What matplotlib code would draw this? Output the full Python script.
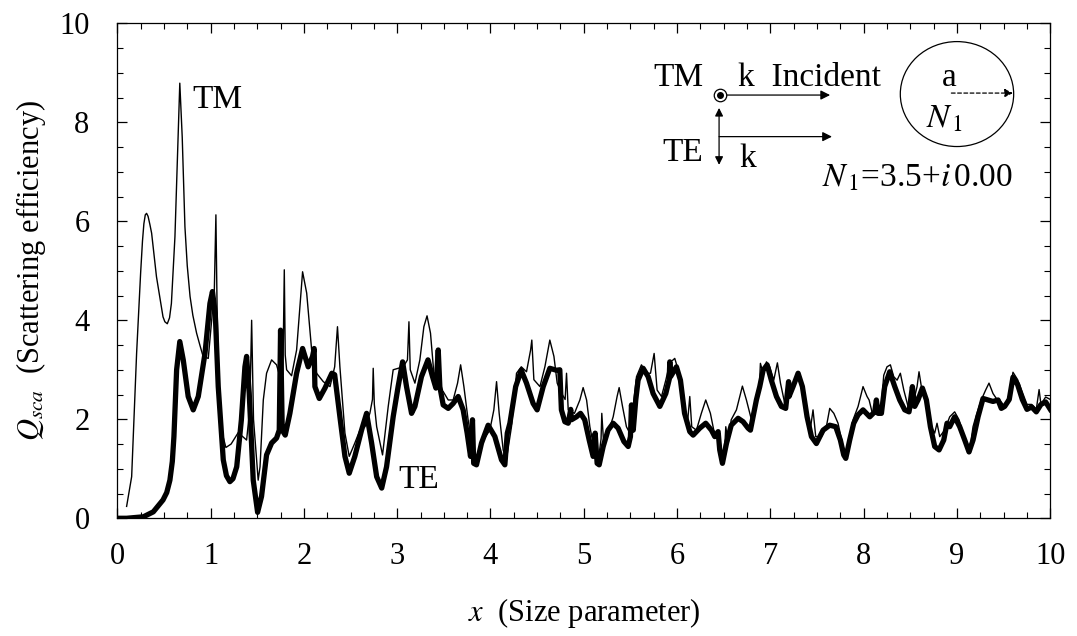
import matplotlib
matplotlib.use("Agg")
import matplotlib.pyplot as plt
from matplotlib.patches import Ellipse

plt.rcParams['font.family'] = ['Liberation Serif', 'DejaVu Serif']
plt.rcParams['mathtext.fontset'] = 'stix'

# ----------------------
# data (x = size parameter, Q_sca)
# ----------------------
x_tm = [0.10, 0.154, 0.207, 0.25, 0.27, 0.285, 0.30, 0.314, 0.33, 0.35, 0.368, 0.42, 0.49, 0.51,
        0.536, 0.56, 0.58, 0.618, 0.646, 0.67, 0.696, 0.725, 0.75, 0.78, 0.81, 0.85, 0.885, 0.92,
        0.975, 1.04, 1.057, 1.07, 1.09, 1.12, 1.164, 1.22, 1.296, 1.386, 1.42,
        1.44, 1.46, 1.51, 1.53, 1.565, 1.6, 1.654, 1.707, 1.743, 1.775, 1.79, 1.80, 1.815, 1.868,
        1.922, 1.986, 2.03, 2.083, 2.136, 2.208, 2.28, 2.33, 2.36, 2.386, 2.44, 2.486, 2.546, 2.6,
        2.654, 2.707, 2.735, 2.743, 2.755, 2.78, 2.843, 2.904, 2.957, 3.01, 3.065, 3.11, 3.126, 3.14,
        3.19, 3.243, 3.286, 3.32, 3.357, 3.393, 3.44, 3.493, 3.547, 3.6, 3.647, 3.68, 3.715, 3.76,
        3.815, 3.85, 3.904, 3.993, 4.036, 4.065, 4.093, 4.136, 4.17, 4.225, 4.279, 4.33, 4.386, 4.43,
        4.443, 4.465, 4.53, 4.583, 4.636, 4.68, 4.715, 4.76, 4.80, 4.815, 4.833, 4.9, 4.958, 4.993,
        5.03, 5.065, 5.1, 5.136, 5.165, 5.185, 5.193, 5.215, 5.26, 5.315, 5.357, 5.379, 5.415, 5.457,
        5.493, 5.53, 5.565, 5.618, 5.672, 5.715, 5.754, 5.786, 5.833, 5.879, 5.922, 5.975, 6.022,
        6.065, 6.108, 6.136, 6.157, 6.207, 6.26, 6.307, 6.357, 6.393, 6.44, 6.457, 6.486, 6.515,
        6.522, 6.547, 6.58, 6.636, 6.672, 6.7, 6.743, 6.797, 6.833, 6.879, 6.893, 6.922, 6.958, 6.993,
        7.036, 7.075, 7.108, 7.154, 7.208, 7.236, 7.297, 7.333, 7.386, 7.422, 7.457, 7.486, 7.547,
        7.6, 7.636, 7.68, 7.725, 7.772, 7.808, 7.843, 7.886, 7.94, 7.993, 8.036, 8.058, 8.093, 8.129,
        8.154, 8.19, 8.215, 8.25, 8.286, 8.322, 8.358, 8.393, 8.43, 8.475, 8.51, 8.547, 8.572, 8.593,
        8.618, 8.654, 8.69, 8.726, 8.761, 8.786, 8.815, 8.868, 8.922, 8.975, 9.022, 9.065, 9.108,
        9.136, 9.172, 9.208, 9.26, 9.307, 9.343, 9.386, 9.422, 9.458, 9.511, 9.56, 9.6, 9.65, 9.7,
        9.75, 9.8, 9.85, 9.88, 9.9, 9.95, 10.0]
q_tm = [0.24, 0.84, 3.33, 4.95, 5.6, 5.95, 6.13, 6.16, 6.1, 5.93, 5.76, 4.88, 4.07, 3.97,
        3.93, 4.05, 4.34, 5.69, 7.37, 8.79, 7.7, 5.89, 5.1, 4.48, 4.1, 3.74, 3.5, 3.27,
        3.23, 4.6, 6.13, 4.2, 2.6, 1.75, 1.43, 1.5, 1.73, 1.58, 2.2,
        4.0, 2.0, 0.77, 1.04, 2.39, 2.93, 3.2, 3.1, 2.86, 2.9, 5.02, 3.3, 3.0, 2.88,
        3.4, 4.98, 4.55, 3.4, 2.93, 2.76, 2.66, 3.06, 3.87, 3.06, 1.72, 1.25, 1.52, 1.78,
        1.85, 2.12, 2.4, 3.03, 2.3, 1.85, 1.28, 2.26, 3.0, 3.03, 3.06, 3.2, 3.97, 3.0,
        2.73, 3.2, 3.87, 4.09, 3.74, 2.93, 2.63, 2.56, 2.39, 2.39, 2.73, 3.1, 2.66, 1.99,
        1.38, 1.25, 1.52, 1.78, 2.19, 2.76, 2.12, 1.38, 1.18, 1.85, 2.93, 3.06, 2.96, 3.4,
        3.6, 2.8, 2.66, 3.06, 3.6, 3.27, 2.73, 2.53, 2.4, 2.93, 2.19, 2.12, 2.39, 2.64,
        2.39, 1.85, 1.51, 1.25, 1.31, 1.6, 2.12, 1.45, 1.72, 2.05, 2.46, 2.64, 2.26, 1.85,
        1.72, 2.26, 2.86, 3.1, 2.93, 2.93, 3.33, 2.59, 2.46, 2.79, 3.14, 3.23, 2.93,
        2.19, 1.85, 2.46, 1.85, 1.78, 2.12, 2.39, 2.12, 1.78, 1.58, 1.25, 1.11, 1.6,
        1.85, 1.51, 1.99, 2.19, 2.46, 2.67, 2.39, 1.99, 2.26, 2.52, 3.13, 2.93, 3.16, 3.06,
        2.79, 3.14, 2.73, 2.32, 2.46, 2.63, 2.89, 2.73, 2.19, 1.72, 2.19, 1.65, 1.65,
        1.85, 2.22, 2.12, 1.92, 1.51, 1.25, 1.58, 1.99, 2.26, 2.66, 2.46, 2.39, 2.12, 2.26,
        2.19, 2.32, 2.89, 3.06, 3.1, 2.86, 2.79, 2.93, 2.59, 2.26, 2.19, 2.46, 2.66, 2.96,
        2.66, 2.56, 2.32, 1.85, 1.72, 1.92, 1.65, 1.78, 2.05, 2.15, 1.99, 1.72, 1.51,
        1.38, 1.85, 2.09, 2.39, 2.59, 2.73, 2.52, 2.42, 2.39, 2.26, 2.5, 2.95, 2.8, 2.55,
        2.3, 2.3, 2.2, 2.6, 2.3, 2.45, 2.4]

x_te = [0.0, 0.1, 0.28, 0.386, 0.49, 0.53, 0.564, 0.59, 0.607, 0.636, 0.67, 0.707, 0.76, 0.814,
        0.868, 0.94, 0.993, 1.02, 1.05, 1.082, 1.136, 1.17, 1.207, 1.24, 1.28, 1.33, 1.368, 1.386,
        1.414, 1.457, 1.504,
        1.546, 1.6, 1.654, 1.707, 1.736, 1.75, 1.768, 1.8, 1.85, 1.922, 1.986, 2.046, 2.093, 2.11,
        2.118, 2.165, 2.226, 2.3, 2.33, 2.386, 2.44, 2.486, 2.546, 2.618, 2.672, 2.726, 2.78, 2.834,
        2.886, 2.957, 3.01, 3.058, 3.1, 3.154, 3.19, 3.26, 3.33, 3.379, 3.415, 3.44, 3.457, 3.493,
        3.547, 3.6, 3.654, 3.707, 3.75, 3.786, 3.807, 3.82, 3.85, 3.904, 3.975, 4.047, 4.118, 4.154,
        4.18, 4.208, 4.27, 4.33, 4.386, 4.457, 4.5, 4.565, 4.636, 4.707, 4.743, 4.76, 4.797, 4.833,
        4.86, 4.868, 4.922, 4.965, 5.01, 5.058, 5.1, 5.122, 5.143, 5.165, 5.208, 5.26, 5.315, 5.368,
        5.43, 5.476, 5.5, 5.511, 5.53, 5.557, 5.582, 5.636, 5.69, 5.743, 5.815, 5.879, 5.915, 5.922,
        5.93, 5.993, 6.036, 6.08, 6.136, 6.172, 6.243, 6.307, 6.368, 6.404, 6.44, 6.457, 6.486,
        6.529, 6.58, 6.654, 6.708, 6.761, 6.786, 6.822, 6.85, 6.886, 6.922, 6.965, 7.01, 7.065,
        7.118, 7.164, 7.195, 7.2, 7.243, 7.297, 7.343, 7.393, 7.44, 7.493, 7.565, 7.636, 7.7, 7.75,
        7.786, 7.808, 7.85, 7.893, 7.94, 7.993, 8.065, 8.118, 8.136, 8.154, 8.19, 8.225, 8.279,
        8.333, 8.386, 8.44, 8.486, 8.522, 8.547, 8.582, 8.629, 8.672, 8.715, 8.761, 8.808, 8.858,
        8.893, 8.922, 8.975, 9.029, 9.083, 9.129, 9.172, 9.226, 9.279, 9.333, 9.386, 9.44, 9.475,
        9.511, 9.56, 9.6, 9.65, 9.7, 9.75, 9.8, 9.85, 9.9, 9.95, 10.0]
q_te = [0.0, 0.0, 0.03, 0.13, 0.37, 0.52, 0.77, 1.15, 1.65, 3.0, 3.57, 3.2, 2.46, 2.19,
        2.46, 3.33, 4.34, 4.58, 4.14, 2.66, 1.18, 0.86, 0.74, 0.8, 1.04, 1.99, 3.06, 3.27,
        2.53, 0.77, 0.12,
        0.44, 1.28, 1.52, 1.62, 1.78, 3.8, 1.78, 1.68, 2.12, 2.93, 3.43, 3.06, 3.27, 3.43,
        2.66, 2.42, 2.63, 2.93, 2.9, 2.05, 1.25, 0.91, 1.25, 1.78, 2.12, 1.52, 0.84, 0.61,
        1.04, 2.05, 2.66, 3.16, 2.66, 2.12, 2.26, 2.86, 3.2, 2.86, 2.63, 3.4, 2.66, 2.29,
        2.22, 2.32, 2.46, 2.19, 1.72, 1.25, 1.99, 1.11, 1.08, 1.52, 1.88, 1.65, 1.18, 1.08,
        1.72, 1.92, 2.66, 2.99, 2.73, 2.32, 2.19, 2.66, 3.03, 2.99, 3.0, 2.19, 1.95, 1.92,
        2.2, 1.99, 2.05, 2.12, 1.99, 1.58, 1.25, 1.72, 1.11, 1.08, 1.45, 1.78, 1.92, 1.82,
        1.55, 1.45, 1.65, 2.29, 1.78, 2.39, 2.79, 3.03, 2.86, 2.52, 2.26, 2.52, 2.8, 3.16,
        2.86, 3.06, 2.79, 2.12, 1.75, 1.68, 1.82, 1.92, 1.78, 1.65, 1.75, 1.38, 1.11,
        1.51, 1.88, 2.02, 1.95, 1.82, 1.78, 2.12, 2.39, 2.66, 2.99, 3.1, 2.79, 2.46,
        2.26, 2.22, 2.76, 2.46, 2.66, 2.93, 2.66, 2.05, 1.65, 1.51, 1.78, 1.88, 1.85, 1.58,
        1.28, 1.21, 1.58, 1.92, 2.09, 2.19, 2.05, 2.15, 2.39, 2.12, 2.12, 2.66, 2.96,
        2.66, 2.39, 2.19, 2.15, 2.66, 2.26, 2.39, 2.63, 2.39, 1.85, 1.45, 1.38, 1.58,
        1.92, 1.85, 2.05, 1.85, 1.58, 1.34, 1.58, 2.05, 2.42, 2.39, 2.36, 2.39, 2.22,
        2.26, 2.4, 2.85, 2.7, 2.4, 2.2, 2.25, 2.15, 2.3, 2.35, 2.2]

x_ticks = [0, 1, 2, 3, 4, 5, 6, 7, 8, 9, 10]
y_ticks = [0, 2, 4, 6, 8, 10]

fig = plt.figure(figsize=(10.77, 6.36), dpi=100)
ax = fig.add_axes([0.1089, 0.1851, 0.8663, 0.7783])

ax.plot(x_tm, q_tm, color='black', lw=1.0)
ax.plot(x_te, q_te, color='black', lw=3.8, solid_joinstyle='round')

ax.set_xlim(0, 10)
ax.set_ylim(0, 10)
ax.set_xticks(x_ticks)
ax.set_yticks(y_ticks)
ax.set_xticks([i * 0.25 for i in range(41)], minor=True)
ax.set_yticks([i * 0.5 for i in range(21)], minor=True)
ax.tick_params(which='both', direction='in', top=True, right=True, labelsize=22)
ax.tick_params(which='major', length=7, width=0.9)
ax.tick_params(which='minor', length=4.5, width=0.8)
ax.tick_params(axis='x', pad=17)
ax.tick_params(axis='y', pad=20)
for s in ax.spines.values():
    s.set_linewidth(0.9)

ax.set_xlabel(r'$x$  (Size parameter)', fontsize=22, labelpad=18)
ax.set_ylabel(r'$Q_{sca}$  (Scattering efficiency)', fontsize=22, labelpad=8)

# curve labels
ax.text(0.81, 8.29, 'TM', fontsize=24)
ax.text(3.01, 0.61, 'TE', fontsize=24)

# inset sketch
ax.text(6.28, 8.73, 'TM', fontsize=24, ha='right')
ax.text(6.28, 7.22, 'TE', fontsize=24, ha='right')
ax.plot([6.46], [8.55], marker='o', ms=9, mfc='white', mec='black', mew=0.9)
ax.plot([6.46], [8.55], marker='o', ms=4, color='black')
arr = dict(arrowstyle='-|>', lw=0.9, color='black', mutation_scale=14, shrinkA=0, shrinkB=0)
ax.annotate('', xy=(7.64, 8.55), xytext=(6.535, 8.55), arrowprops=arr)
ax.text(6.65, 8.73, 'k  Incident', fontsize=24)
ax.annotate('', xy=(6.45, 8.29), xytext=(6.45, 7.14),
            arrowprops=dict(arrowstyle='<|-|>', lw=0.9, color='black', mutation_scale=12,
                            shrinkA=0, shrinkB=0))
ax.annotate('', xy=(7.66, 7.71), xytext=(6.45, 7.71), arrowprops=arr)
ax.text(6.67, 7.1, 'k', fontsize=24)

ax.add_patch(Ellipse((9.0, 8.57), 1.215, 2.12, fill=False, lw=0.9, color='black'))
ax.text(8.92, 8.73, 'a', fontsize=24, ha='center')
ax.annotate('', xy=(9.60, 8.59), xytext=(8.94, 8.59),
            arrowprops=dict(arrowstyle='-|>', lw=0.9, ls=(0, (3, 2)), color='black',
                            mutation_scale=12, shrinkA=0, shrinkB=0))
ax.text(8.67, 7.9, r'$N_{\,1}$', fontsize=24)
ax.text(7.55, 6.7, r'$N_{\,1}$=3.5+$i\,$0.00', fontsize=24)

fig.savefig('out.png', dpi=100)
